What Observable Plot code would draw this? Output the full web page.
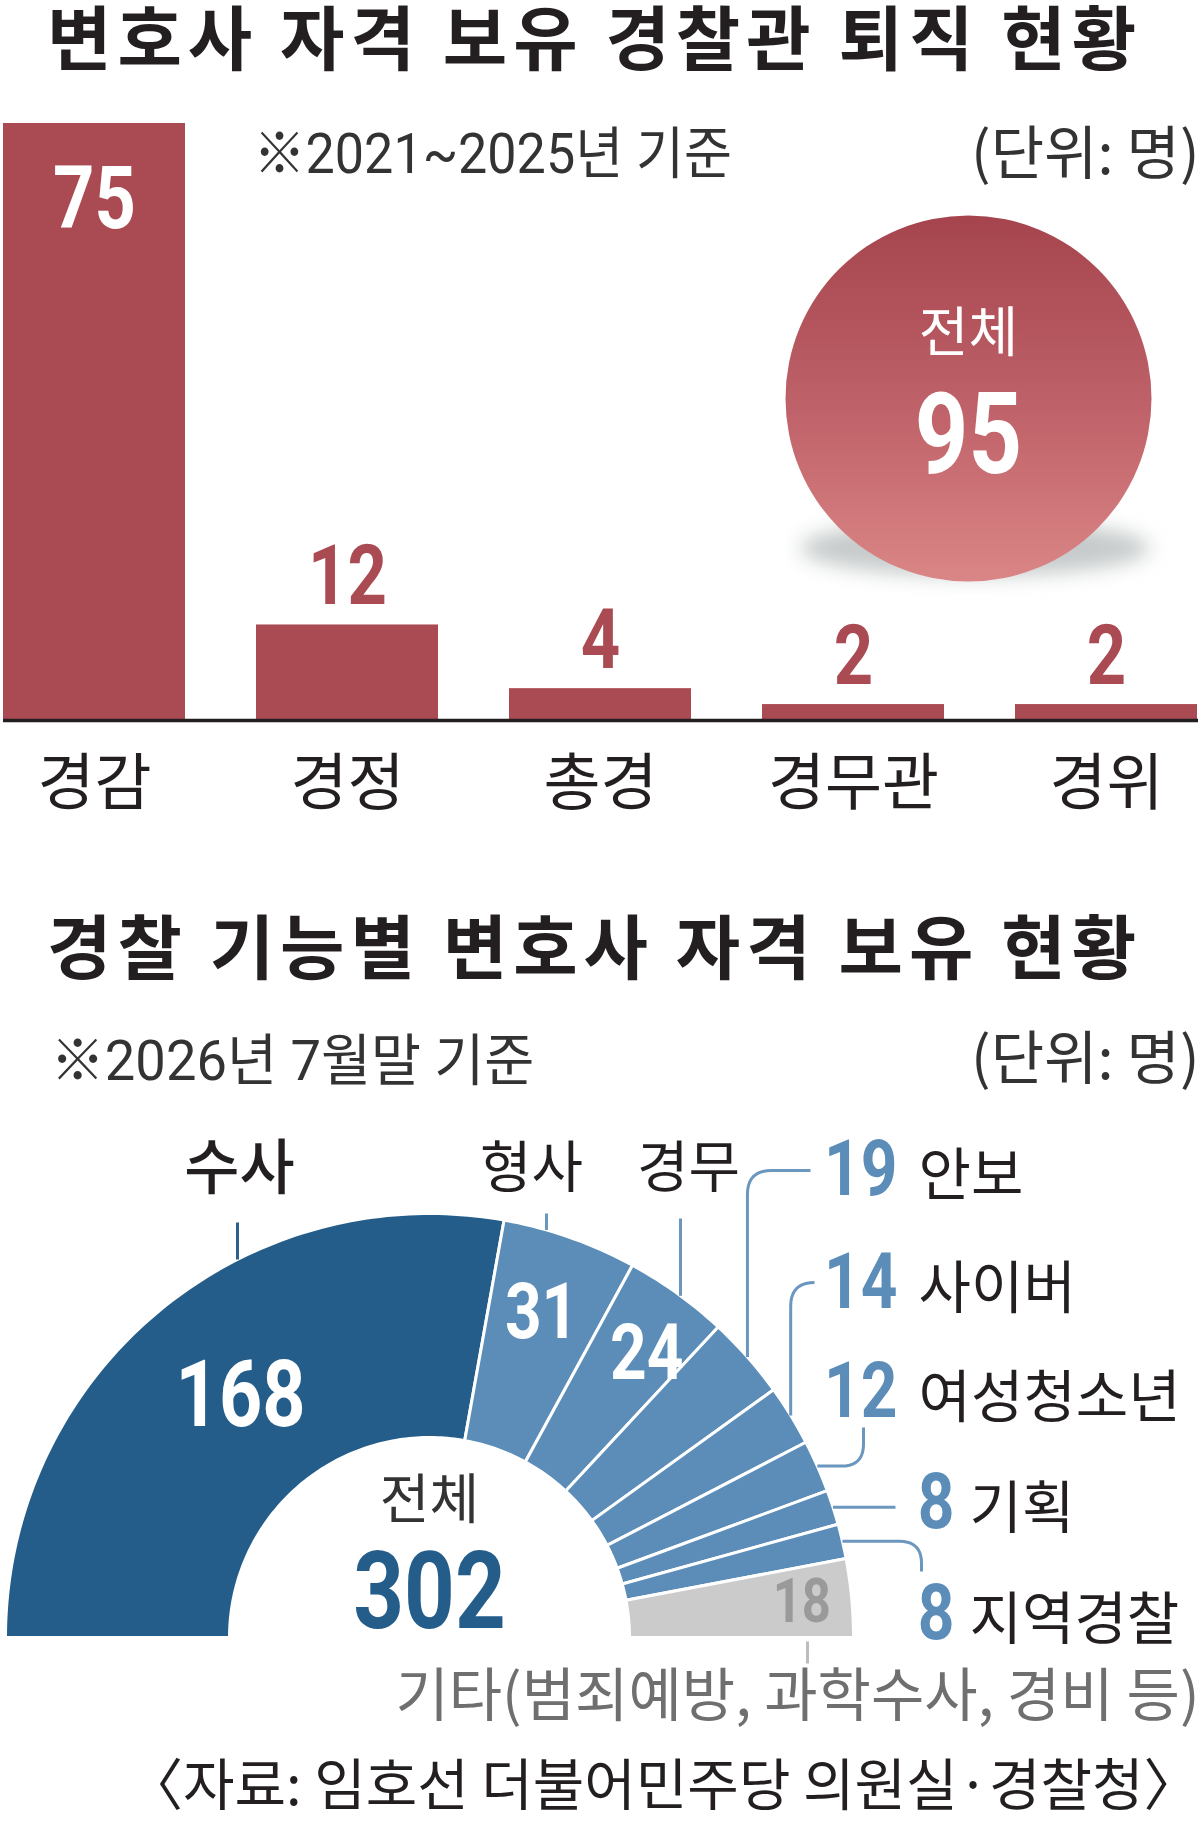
<!DOCTYPE html>
<html><head><meta charset="utf-8">
<script src="https://cdn.jsdelivr.net/npm/d3@7"></script>
<script src="https://cdn.jsdelivr.net/npm/@observablehq/plot@0.6"></script>
<style>
body{margin:0;background:#fff;width:1200px;overflow:hidden}
.title{font-family:"Noto Sans CJK KR",sans-serif;font-weight:700;font-size:70px;line-height:70px;padding-left:47px;color:#231f20;white-space:nowrap;letter-spacing:6px}
#t1{height:73px}
#t2{height:70px}
svg{display:block}
</style></head><body>
<div id="t1" class="title"></div>
<div id="c1"></div>
<div id="t2" class="title"></div>
<div id="c2"></div>
<script>
// ---------- data ----------
const title1 = "변호사 자격 보유 경찰관 퇴직 현황";
const title2 = "경찰 기능별 변호사 자격 보유 현황";
const ranks = ["경감", "경정", "총경", "경무관", "경위"];
const retired = [75, 12, 4, 2, 2];
const note1 = "※2021~2025년 기준";
const note2 = "※2026년 7월말 기준";
const unitText = "(단위: 명)";
const totalText = "전체";
const funcs = ["수사", "형사", "경무", "안보", "사이버", "여성청소년", "기획", "지역경찰", "기타"];
const holders = [168, 31, 24, 19, 14, 12, 8, 8, 18];
const etcCaption = "기타(범죄예방, 과학수사, 경비 등)";
const sourceText = "〈자료: 임호선 더불어민주당 의원실·경찰청〉";

// ---------- styles ----------
const KR = "'Noto Sans CJK KR', sans-serif";
const NUM = "Roboto, 'Noto Sans CJK KR', sans-serif";          // bold numbers, squeezed
const NOTE = "Roboto, 'Noto Sans CJK KR', Lato, sans-serif";    // notes, slightly squeezed
const INK = "#231f20";
const RED = "#aa4a52";
const DARKBLUE = "#245d8a";
const BLUE = "#5b8db8";
const GRAY = "#cbcbcb";

document.getElementById("t1").textContent = title1;
document.getElementById("t2").textContent = title2;

function squeeze(svg, family, factor) {
  d3.select(svg).selectAll("g")
    .filter(function () { return this.getAttribute("font-family") === family; })
    .selectAll("text").each(function () {
      const w = this.getComputedTextLength();
      this.setAttribute("textLength", (w * factor).toFixed(1));
      this.setAttribute("lengthAdjust", "spacingAndGlyphs");
    });
}

// ---------- chart 1: bars ----------
const rows = ranks.map((rank, i) => ({rank, n: retired[i]}));
const total1 = d3.sum(retired);
const M1 = {left: 3, top: 50};
const at1 = (px, py) => ({frameAnchor: "top-left", dx: px - M1.left, dy: py - M1.top});
const BUB = {cx: 968, cy: 325, r: 183};

const decor1 = () => {
  const g = d3.create("svg:g");
  const defs = g.append("defs");
  const lg = defs.append("linearGradient").attr("id", "g95")
    .attr("x1", 0).attr("y1", 0).attr("x2", 0).attr("y2", 1);
  lg.append("stop").attr("offset", "0%").attr("stop-color", "#a5444d");
  lg.append("stop").attr("offset", "55%").attr("stop-color", "#c0636a");
  lg.append("stop").attr("offset", "100%").attr("stop-color", "#db8686");
  const f = defs.append("filter").attr("id", "blur1")
    .attr("x", "-30%").attr("y", "-100%").attr("width", "160%").attr("height", "300%");
  f.append("feGaussianBlur").attr("stdDeviation", 10);
  g.append("ellipse").attr("cx", BUB.cx + 7).attr("cy", BUB.cy + 150)
    .attr("rx", BUB.r - 8).attr("ry", 28).attr("fill", "#c6caca").attr("filter", "url(#blur1)");
  return g.node();
};

const chart1 = Plot.plot({
  width: 1200, height: 836,
  marginLeft: M1.left, marginRight: 2, marginTop: M1.top, marginBottom: 189,
  x: {domain: ranks, paddingInner: 0.28, paddingOuter: 0, axis: null},
  y: {domain: [0, d3.max(retired)], axis: null},
  style: {background: "#fff", overflow: "visible"},
  marks: [
    decor1,
    Plot.barY(rows, {x: "rank", y: "n", fill: RED}),
    Plot.ruleY([0], {stroke: INK, strokeWidth: 3.5}),
    Plot.text(rows.filter(d => d.n >= 50), {x: "rank", y: "n", text: d => String(d.n),
      lineAnchor: "top", dy: 42, fill: "#fff", fontFamily: NUM, fontWeight: "bold", fontSize: 88}),
    Plot.text(rows.filter(d => d.n < 50), {x: "rank", y: "n", text: d => String(d.n),
      lineAnchor: "bottom", dy: -21, fill: RED, fontFamily: NUM, fontWeight: "bold", fontSize: 84}),
    Plot.text(rows, {x: "rank", y: 0, text: "rank", lineAnchor: "bottom", dy: 84,
      fill: INK, fontFamily: KR, fontSize: 62}),
    Plot.text([note1], {...at1(253, 99), text: d => d, textAnchor: "start", lineAnchor: "bottom",
      fill: "#333", fontFamily: NOTE, fontSize: 56}),
    Plot.text([unitText], {...at1(1199, 100), text: d => d, textAnchor: "end", lineAnchor: "bottom",
      fill: "#333", fontFamily: KR, fontSize: 58}),
    Plot.dot([total1], {...at1(BUB.cx, BUB.cy), r: BUB.r, fill: "url(#g95)", stroke: "none"}),
    Plot.text([totalText], {...at1(BUB.cx, 278), text: d => d, textAnchor: "middle", lineAnchor: "bottom",
      fill: "#fff", fontFamily: KR, fontSize: 54}),
    Plot.text([total1], {...at1(BUB.cx, 399), text: d => String(d), textAnchor: "middle", lineAnchor: "bottom",
      fill: "#fff", fontFamily: NUM, fontWeight: "bold", fontSize: 114})
  ]
});
document.getElementById("c1").append(chart1);
squeeze(chart1, NUM, 0.82);
squeeze(chart1, NOTE, 0.93);

// ---------- chart 2: half donut ----------
const H2 = 845, CX = 429, CY = 658;
const R_OUT = 424, R_IN = 200;
const total2 = d3.sum(holders);
const ends = d3.cumsum(holders);
const ang = c => Math.PI * (1 - c / total2);
const slices = funcs.map((name, i) => ({name, n: holders[i], a0: ang(ends[i] - holders[i]), a1: ang(ends[i])}));
const fillOf = name => name === funcs[0] ? DARKBLUE : name === funcs[funcs.length - 1] ? GRAY : BLUE;

const polyPts = [];
for (const s of slices) {
  const steps = Math.max(6, Math.ceil((s.a0 - s.a1) * 180 / Math.PI));
  for (let k = 0; k <= steps; k++) {
    const a = s.a0 + (s.a1 - s.a0) * k / steps;
    polyPts.push({name: s.name, x: R_OUT * Math.cos(a), y: R_OUT * Math.sin(a)});
  }
  for (let k = steps; k >= 0; k--) {
    const a = s.a0 + (s.a1 - s.a0) * k / steps;
    polyPts.push({name: s.name, x: R_IN * Math.cos(a), y: R_IN * Math.sin(a)});
  }
}

// layout of labels (positions relative to donut centre, y up; inA = angle nudge in degrees)
const LAY = {
  "수사": {inR: 306, inA: -1.8, inSize: 90, tag: {x: -190, y: 449, size: 60}, lead: {type: "v", x: -192, top: 415, color: "#2d5f8a"}},
  "형사": {inR: 343, inA: 0.3, inSize: 76, tag: {x: 102, y: 451, size: 56}, lead: {type: "v", x: 117, top: 424}},
  "경무": {inR: 357, inA: -1.7, inSize: 76, tag: {x: 259, y: 451, size: 56}, lead: {type: "v", x: 251, top: 419}},
  "안보": {side: {numX: 468, nameX: 489, y: 443}, lead: {type: "upRight", y: 467, end: 381}},
  "사이버": {side: {numX: 468, nameX: 489, y: 330}, lead: {type: "upRight", y: 355, end: 385}},
  "여성청소년": {side: {numX: 468, nameX: 489, y: 221}, lead: {type: "rightUp", x: 434, end: 210}},
  "기획": {side: {numX: 525, nameX: 540, y: 110}, lead: {type: "right", end: 466}},
  "지역경찰": {side: {numX: 525, nameX: 540, y: -1}, lead: {type: "rightDown", x: 492, end: 66}},
  "기타": {inR: 374, inA: 0, inSize: 62, inColor: "#9a9a9a", lead: {type: "v2", x: 378, y0: -4, y1: -26, color: "#bdbdbd"}}
};

function rounded(a, c, b, r, n = 10) {
  const d1 = Math.hypot(c[0] - a[0], c[1] - a[1]), d2 = Math.hypot(b[0] - c[0], b[1] - c[1]);
  const rr = Math.min(r, d1, d2);
  const A = [c[0] + (a[0] - c[0]) * rr / d1, c[1] + (a[1] - c[1]) * rr / d1];
  const B = [c[0] + (b[0] - c[0]) * rr / d2, c[1] + (b[1] - c[1]) * rr / d2];
  const pts = [a];
  for (let i = 0; i <= n; i++) {
    const t = i / n;
    pts.push([(1 - t) ** 2 * A[0] + 2 * (1 - t) * t * c[0] + t * t * B[0],
              (1 - t) ** 2 * A[1] + 2 * (1 - t) * t * c[1] + t * t * B[1]]);
  }
  pts.push(b);
  return pts;
}

const leadPts = [];
for (const s of slices) {
  const L = LAY[s.name].lead;
  const mid = (s.a0 + s.a1) / 2;
  const p = [R_OUT * Math.cos(mid), R_OUT * Math.sin(mid)];
  let pts;
  if (L.type === "v") pts = [[L.x, Math.sqrt(R_OUT * R_OUT - L.x * L.x)], [L.x, L.top]];
  else if (L.type === "v2") pts = [[L.x, L.y0], [L.x, L.y1]];
  else if (L.type === "upRight") pts = rounded(p, [p[0], L.y], [L.end, L.y], 24);
  else if (L.type === "rightUp") pts = rounded(p, [L.x, p[1]], [L.x, L.end], 22);
  else if (L.type === "rightDown") pts = rounded(p, [L.x, p[1]], [L.x, L.end], 22);
  else pts = [p, [L.end, p[1]]];
  const color = L.color || "#6b97bf";
  for (const q of pts) leadPts.push({name: s.name, x: q[0], y: q[1], color});
}

const inner = slices.filter(s => LAY[s.name].inR).map(s => {
  const L = LAY[s.name];
  const mid = (s.a0 + s.a1) / 2 + (L.inA || 0) * Math.PI / 180;
  return {...s, x: L.inR * Math.cos(mid), y: L.inR * Math.sin(mid), size: L.inSize, color: L.inColor || "#fff"};
});
const tags = slices.filter(s => LAY[s.name].tag).map(s => ({...s, ...LAY[s.name].tag}));
const sides = slices.filter(s => LAY[s.name].side).map(s => ({...s, ...LAY[s.name].side}));

const chart2 = Plot.plot({
  width: 1200, height: H2, margin: 0,
  x: {domain: [-CX, 1200 - CX], range: [0, 1200], axis: null},
  y: {domain: [CY - H2, CY], range: [H2, 0], axis: null},
  color: {type: "identity"},
  style: {background: "#fff", overflow: "visible"},
  marks: [
    Plot.line(polyPts, {x: "x", y: "y", z: "name", fill: d => fillOf(d.name), stroke: "#fff",
      strokeWidth: 3, curve: "linear-closed"}),
    Plot.line(leadPts, {x: "x", y: "y", z: "name", stroke: "color", strokeWidth: 3,
      strokeLinecap: "butt", curve: "linear"}),
    Plot.text(inner.filter(d => d.size >= 85), {x: "x", y: "y", text: d => String(d.n), fill: "color",
      lineAnchor: "middle", fontFamily: NUM, fontWeight: "bold", fontSize: 92}),
    Plot.text(inner.filter(d => d.size < 85 && d.size > 70), {x: "x", y: "y", text: d => String(d.n), fill: "color",
      lineAnchor: "middle", fontFamily: NUM, fontWeight: "bold", fontSize: 78}),
    Plot.text(inner.filter(d => d.size <= 70), {x: "x", y: "y", text: d => String(d.n), fill: "color",
      lineAnchor: "middle", fontFamily: NUM, fontWeight: "bold", fontSize: 62}),
    Plot.text(tags.filter(d => d.size >= 60), {x: "x", y: "y", text: "name", lineAnchor: "bottom",
      fill: INK, fontFamily: KR, fontSize: 60, fontWeight: 500}),
    Plot.text(tags.filter(d => d.size < 60), {x: "x", y: "y", text: "name", lineAnchor: "bottom",
      fill: INK, fontFamily: KR, fontSize: 56}),
    Plot.text(sides, {x: "numX", y: "y", text: d => String(d.n), textAnchor: "end", lineAnchor: "bottom",
      fill: BLUE, fontFamily: NUM, fontWeight: "bold", fontSize: 78}),
    Plot.text(sides, {x: "nameX", y: "y", text: "name", textAnchor: "start", lineAnchor: "bottom",
      fill: INK, fontFamily: KR, fontSize: 57}),
    Plot.text([totalText], {x: 0, y: 119, text: d => d, lineAnchor: "bottom",
      fill: "#333", fontFamily: KR, fontSize: 54}),
    Plot.text([total2], {x: 0, y: 10, text: d => String(d), lineAnchor: "bottom",
      fill: DARKBLUE, fontFamily: NUM, fontWeight: "bold", fontSize: 108}),
    Plot.text([etcCaption], {x: 770, y: -78, text: d => d, textAnchor: "end", lineAnchor: "bottom",
      fill: "#6f6f6f", fontFamily: KR, fontSize: 58}),
    Plot.text([sourceText], {x: 770, y: -167, text: d => d, textAnchor: "end", lineAnchor: "bottom",
      fill: INK, fontFamily: KR, fontSize: 56}),
    Plot.text([note2], {x: 50 - CX, y: 558, text: d => d, textAnchor: "start", lineAnchor: "bottom",
      fill: "#333", fontFamily: NOTE, fontSize: 56}),
    Plot.text([unitText], {x: 1199 - CX, y: 559, text: d => d, textAnchor: "end", lineAnchor: "bottom",
      fill: "#333", fontFamily: KR, fontSize: 58})
  ]
});
document.getElementById("c2").append(chart2);
squeeze(chart2, NUM, 0.82);
squeeze(chart2, NOTE, 0.97);
</script>
</body></html>
